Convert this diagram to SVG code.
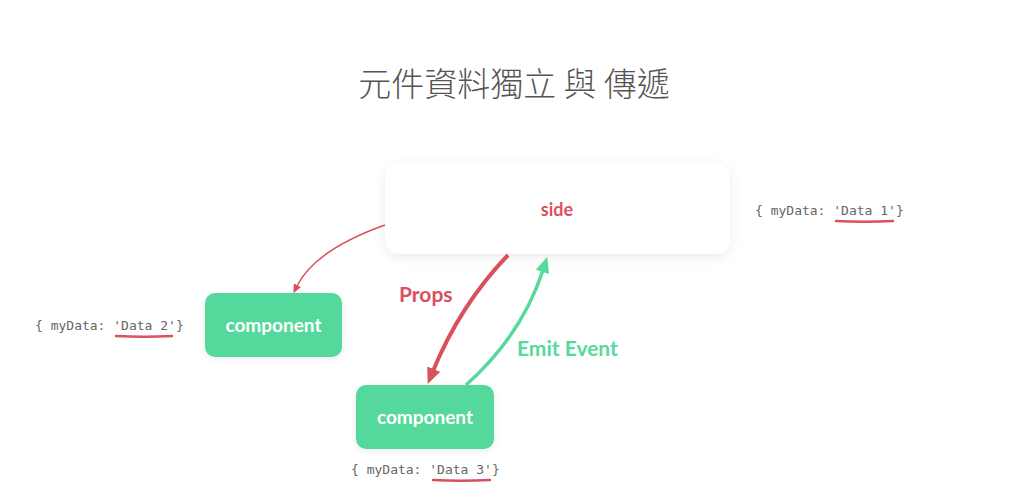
<svg xmlns="http://www.w3.org/2000/svg" width="1024" height="494" viewBox="0 0 1024 494">
  <defs>
    <style>
      .title { font-family: "Noto Sans CJK TC", "Noto Sans CJK SC", sans-serif; font-size: 33px; font-weight: 300; fill: #555; }
      .lbl { font-family: Lato, "Noto Sans", sans-serif; font-weight: 700; }
      .comp { fill: #55d89b; }
      .comptext { font-family: Lato, "Noto Sans", sans-serif; font-weight: 700; font-size: 19px; fill: #ffffff; }
      .mono { font-family: "DejaVu Sans Mono", "Liberation Mono", monospace; font-size: 13px; fill: #666; }
      .uline { fill: none; stroke: #d9515d; stroke-width: 2.4; stroke-linecap: round; }
    </style>
    <filter id="shadow" x="-20%" y="-30%" width="140%" height="170%">
      <feDropShadow dx="0" dy="3" stdDeviation="6" flood-color="#000" flood-opacity="0.08"/>
    </filter>
    <filter id="shadow2" x="-20%" y="-30%" width="140%" height="170%">
      <feDropShadow dx="0" dy="2" stdDeviation="3" flood-color="#000" flood-opacity="0.08"/>
    </filter>
    <marker id="arrRedThin" viewBox="0 0 9 8" refX="1" refY="4" markerWidth="9" markerHeight="8" markerUnits="userSpaceOnUse" orient="auto">
      <path d="M0,0 L9,4 L0,8 z" fill="#d9515d"/>
    </marker>
    <marker id="arrRed" viewBox="0 0 16 14" refX="2" refY="7" markerWidth="16" markerHeight="14" markerUnits="userSpaceOnUse" orient="auto">
      <path d="M0,0 L16,7 L0,14 z" fill="#d9515d"/>
    </marker>
    <marker id="arrGreen" viewBox="0 0 16 14" refX="2" refY="7" markerWidth="16" markerHeight="14" markerUnits="userSpaceOnUse" orient="auto">
      <path d="M0,0 L16,7 L0,14 z" fill="#56d99c"/>
    </marker>
  </defs>

  <rect width="1024" height="494" fill="#ffffff"/>

  <text class="title" x="514" y="96" text-anchor="middle">元件資料獨立 與 傳遞</text>

  <g id="side">
    <rect x="385" y="163" width="345" height="91" rx="14" fill="#ffffff" filter="url(#shadow)"/>
    <text class="lbl" x="557" y="216" text-anchor="middle" font-size="18" fill="#d9515d">side</text>
  </g>

  <g id="component1">
    <rect class="comp" x="205" y="293" width="137" height="64" rx="10" filter="url(#shadow2)"/>
    <text class="comptext" x="273.5" y="332" text-anchor="middle">component</text>
  </g>

  <g id="component2">
    <rect class="comp" x="356" y="385" width="138" height="64" rx="10" filter="url(#shadow2)"/>
    <text class="comptext" x="425" y="424" text-anchor="middle">component</text>
  </g>

  <g id="data1">
    <text class="mono" x="755" y="215">{ myData: 'Data 1'}</text>
    <path class="uline" d="M836,221 Q864,222.5 893,221"/>
  </g>
  <g id="data2">
    <text class="mono" x="35" y="330">{ myData: 'Data 2'}</text>
    <path class="uline" d="M116,336 Q144,337.5 172,336"/>
  </g>
  <g id="data3">
    <text class="mono" x="351" y="474">{ myData: 'Data 3'}</text>
    <path class="uline" d="M433,480 Q461,481.5 490,480"/>
  </g>

  <g id="connectors">
    <path d="M385,225 Q315,250 297,286" fill="none" stroke="#d9515d" stroke-width="1.5" marker-end="url(#arrRedThin)"/>
    <path d="M508,255 Q460,305 433,371" fill="none" stroke="#d9515d" stroke-width="4" marker-end="url(#arrRed)"/>
    <path d="M466,385 Q522,335 543,270" fill="none" stroke="#56d99c" stroke-width="3.5" marker-end="url(#arrGreen)"/>
    <text class="lbl" x="399" y="302" font-size="21" fill="#d9515d">Props</text>
    <text class="lbl" x="517" y="356" font-size="21" fill="#56d99c">Emit Event</text>
  </g>
</svg>
